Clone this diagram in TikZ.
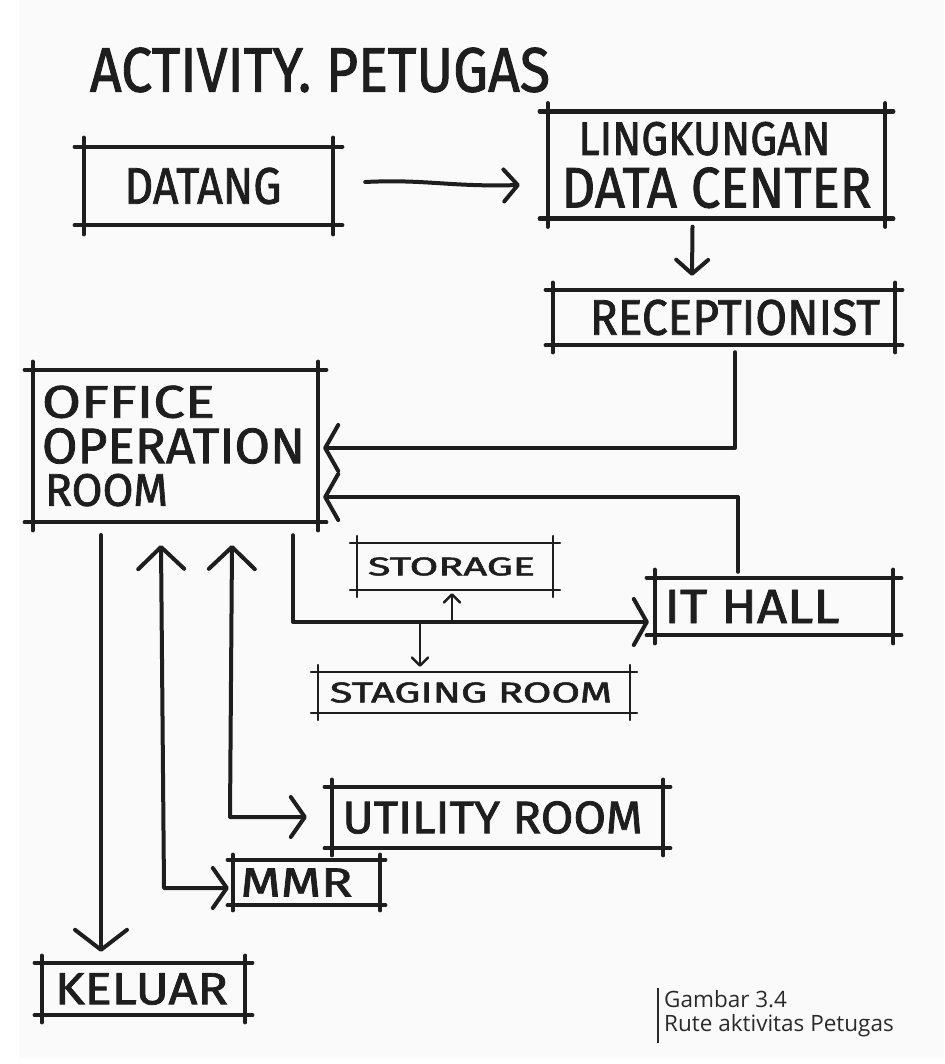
\documentclass[tikz,border=0pt]{standalone}
\usepackage{fontspec}
\usepackage{graphicx}
\usetikzlibrary{arrows.meta,calc}
\newfontfamily\handfont[FakeBold=1.6]{Fira Sans}
\newfontfamily\capfont{Open Sans}
\definecolor{ink}{HTML}{1E1E1E}
\definecolor{paper}{HTML}{FAFAFA}
\definecolor{capc}{HTML}{2A2A2A}
% hand lettering squeezed into a given width and cap height
\newcommand\hw[3]{\resizebox{#1pt}{#2pt}{\handfont #3}}
% a sketched frame: four strokes that run a little past the corners
\newcommand\frameit[3]{%
  \draw[#3] ($(#1.north west)+(-#2,0)$) -- ($(#1.north east)+(#2,0)$);
  \draw[#3] ($(#1.south west)+(-#2,0)$) -- ($(#1.south east)+(#2,0)$);
  \draw[#3] ($(#1.north west)+(0,-#2)$) -- ($(#1.south west)+(0,#2)$);
  \draw[#3] ($(#1.north east)+(0,-#2)$) -- ($(#1.south east)+(0,#2)$);}
\tikzset{
  box/.style={rectangle, inner sep=0pt, text=ink},
  heavy/.style={draw=ink, line width=4.5pt, line cap=round},
  light/.style={draw=ink, line width=2pt, line cap=round},
  ink line/.style={draw=ink, line width=4pt, line cap=round, line join=round},
  fine line/.style={draw=ink, line width=2.5pt, line cap=round, line join=round},
  tipR/.style={-{Straight Barb[length=14pt,width=32pt,round]}},
  tipL/.style={-{Straight Barb[length=13pt,width=46pt,round]}},
  tipD/.style={-{Straight Barb[length=20pt,width=52pt,round]}},
  tipS/.style={-{Straight Barb[length=8pt,width=16pt,round]}},
  tipUR/.style={{Straight Barb[length=22pt,width=46pt,round]}-{Straight Barb[length=14pt,width=40pt,round]}},
}
\begin{document}
\begin{tikzpicture}[x=1pt,y=-1pt]
\useasboundingbox (0,0) rectangle (944,1064);
\fill[white] (0,0) rectangle (944,1064);
\fill[paper] (19,0) rectangle (944,1058);

% heading
\node[box] (title) at (320,70) {\hw{460}{44}{ACTIVITY. PETUGAS}};

% rooms
\node[box, minimum width=249pt, minimum height=78pt] (datang) at (208.5,186) {\hspace*{-11pt}\hw{157}{36}{DATANG}};
\node[box, minimum width=337pt, minimum height=107pt, align=center] (lingk) at (716.5,165)
  {\hspace*{-24pt}\hw{252}{33}{LINGKUNGAN}\\[11pt]\hw{310}{40}{DATA CENTER}};
\node[box, minimum width=342pt, minimum height=55pt] (recep) at (724,317.5) {\hspace*{22pt}\hw{290}{35}{RECEPTIONIST}};
\node[box, minimum width=285pt, minimum height=152pt, text width=267pt, inner xsep=9pt, align=left] (office) at (175.5,446)
  {\hw{173}{32}{OFFICE}\\[9pt]\hw{263}{35}{OPERATION}\\[9pt]\hspace*{3pt}\hw{123}{32}{ROOM}};
\node[box, minimum width=196pt, minimum height=47pt] (storage) at (455,566.5) {\hspace*{-7pt}\hw{167}{18}{STORAGE}};
\node[box, minimum width=238pt, minimum height=57pt] (ithall) at (774,606.5) {\hspace*{-44pt}\hw{175}{33}{IT HALL}};
\node[box, minimum width=312pt, minimum height=41pt] (staging) at (474,692.5) {\hspace*{-6pt}\hw{282}{20}{STAGING ROOM}};
\node[box, minimum width=331pt, minimum height=61pt] (utility) at (497.5,817.5) {\hspace*{-10pt}\hw{300}{32}{UTILITY ROOM}};
\node[box, minimum width=147pt, minimum height=45pt] (mmr) at (306.5,882.5) {\hspace*{-20pt}\hw{112}{28}{MMR}};
\node[box, minimum width=203pt, minimum height=52pt] (keluar) at (143.5,989) {\hspace*{-4pt}\hw{173}{31}{KELUAR}};

\frameit{datang}{9}{heavy}
\frameit{lingk}{8}{heavy}
\frameit{recep}{7}{heavy}
\frameit{office}{8}{heavy}
\frameit{storage}{7}{light}
\frameit{ithall}{8}{heavy}
\frameit{staging}{7}{light}
\frameit{utility}{7}{heavy}
\frameit{mmr}{5}{heavy}
\frameit{keluar}{7}{heavy}

% bends of the routes
\coordinate (rturn) at (735,448);
\coordinate (iturn) at (738,497);
\coordinate (oturn) at (293,622);
\coordinate (sb) at (452,622);
\coordinate (gb) at (420,622);
\coordinate (kx) at (101,535);
\coordinate (mtop) at (161,545);
\coordinate (mturn) at (164,888);
\coordinate (utop) at (232,545);
\coordinate (uturn) at (230,817);

% routes
\draw[ink line, tipR] ($(datang.east)+(32,-4)$) .. controls +(60,-3) and +(-70,2) .. ($(lingk.west)+(-28,20)$);
\draw[ink line, tipR] ($(lingk.south)+(-24,8)$) -- ($(recep.north)+(-32,-14)$);
\draw[ink line, tipL, shorten >=5pt] ($(recep.south)+(11,7)$) |- (office.east |- rturn);
\draw[ink line, tipL, shorten >=5pt] ($(ithall.north)+(-36,-6)$) |- (office.east |- iturn);
\draw[ink line, tipL, shorten >=6pt] ($(office.south)+(117.5,13)$) |- (ithall.west |- oturn);
\draw[fine line, tipS, shorten >=3pt] (sb) -- (sb |- storage.south);
\draw[fine line, tipS, shorten >=5pt] (gb) -- (gb |- staging.north);
\draw[ink line, tipD, shorten >=11pt] (kx) -- (kx |- keluar.north);
\draw[ink line, tipUR, shorten >=4pt] (mtop) -- (mturn) -- (mmr.west |- mturn);
\draw[ink line, tipUR, shorten >=25pt] (utop) -- (uturn) -- (utility.west |- uturn);

% caption
\node[anchor=north west, align=left, inner sep=0pt, text=capc,
      font=\capfont\fontsize{22.5}{24.5}\selectfont] (cap) at (664,990) {Gambar 3.4\\Rute aktivitas Petugas};
\draw[capc, line width=1.2pt] ($(cap.north west)+(-6,-2)$) -- ($(cap.south west)+(-6,6)$);
\end{tikzpicture}
\end{document}
